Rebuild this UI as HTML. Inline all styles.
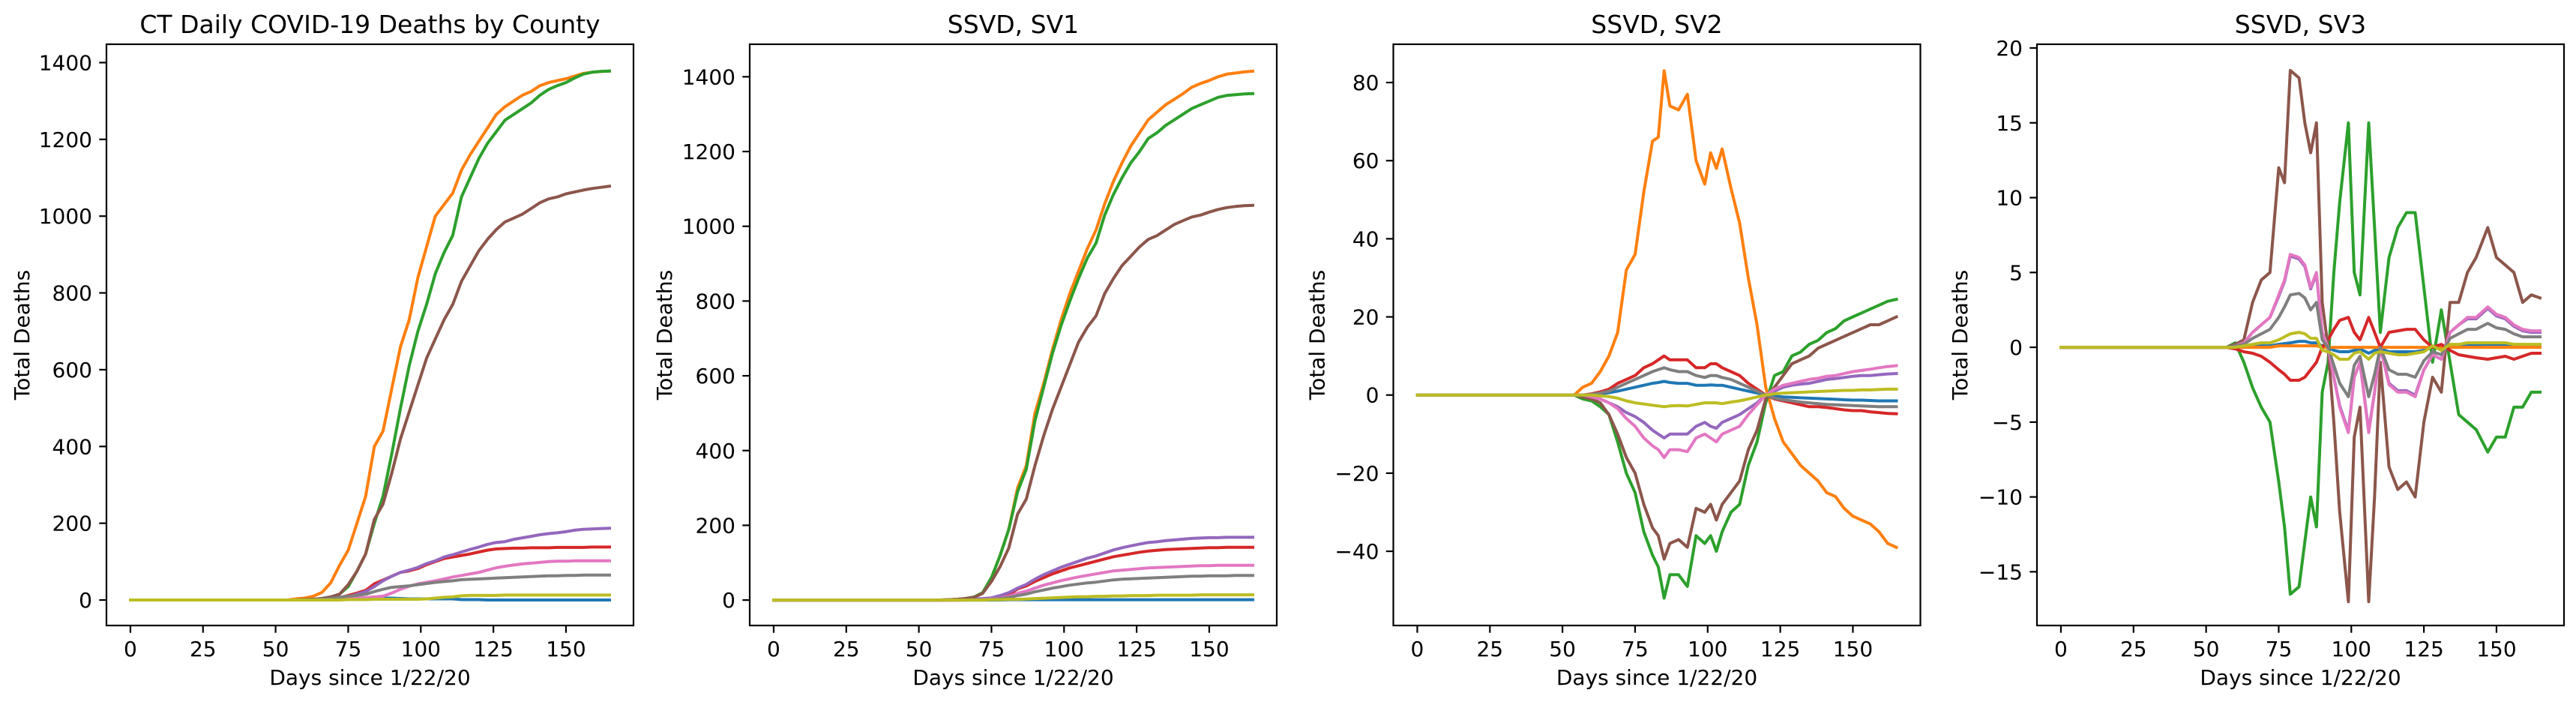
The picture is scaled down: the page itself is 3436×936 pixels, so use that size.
<!DOCTYPE html>
<html><head><meta charset="utf-8"><style>
html,body{margin:0;padding:0;background:#fff;}
svg{display:block;font-family:"DejaVu Sans","Liberation Sans",sans-serif;}
</style></head><body>
<svg id="fig" width="3436" height="936" viewBox="0 0 3436 936" xmlns="http://www.w3.org/2000/svg"></svg>
<script>
const colors=["#1f77b4","#ff7f0e","#2ca02c","#d62728","#9467bd","#8c564b","#e377c2","#7f7f7f","#bcbd22"];
const seriesNames=["blue","orange","green","red","purple","brown","pink","gray","olive"];
const xTicks=[0,25,50,75,100,125,150];
const days12=[0,54,57,60,63,66,69,72,75,78,81,84,87,90,93,96,99,102,105,108,111,114,117,120,123,126,129,132,135,138,141,144,147,150,153,156,159,162,165];
const days3=[0,54,57,60,63,66,69,72,75,78,81,83,85,87,90,93,96,99,101,103,105,108,111,114,117,120,123,126,129,132,135,138,141,144,147,150,153,156,159,162,165];
const days4=[0,54,57,60,63,66,69,72,75,77,79,82,84,86,88,90,92,94,96,99,101,103,106,108,110,113,116,119,122,125,128,131,134,137,140,143,147,150,153,156,159,162,165];
// Panel 1: cumulative deaths
const p1Blue=[0,0,0,0,0,0,1,1,2,3,4,4,5,5,4,3,3,3,3,3,3,1,1,1,0,0,0,0,0,0,0,0,0,0,0,0,0,0,0];
const p1Orange=[0,0,3,5,10,20,45,90,130,200,270,400,440,550,660,730,840,920,1000,1030,1060,1120,1160,1195,1230,1265,1285,1300,1315,1325,1340,1348,1353,1358,1365,1372,1375,1377,1378];
const p1Green=[0,0,0,1,2,4,8,15,35,75,120,200,270,380,500,610,700,770,850,905,950,1050,1100,1150,1190,1220,1250,1265,1280,1295,1315,1330,1340,1348,1360,1370,1375,1377,1378];
const p1Red=[0,0,0,0,1,2,3,6,12,18,25,42,52,62,72,76,82,92,100,108,112,116,120,125,130,133,134,135,135,136,136,136,137,137,137,137,138,138,138];
const p1Purple=[0,0,0,0,1,2,3,5,8,15,22,35,50,62,72,78,85,95,102,112,118,125,132,138,145,150,152,158,162,166,170,173,175,178,182,184,185,186,187];
const p1Brown=[0,0,0,1,2,4,8,15,40,75,120,210,250,330,420,490,560,630,680,730,770,830,870,910,940,965,985,995,1005,1020,1035,1045,1050,1058,1063,1068,1072,1075,1078];
const p1Pink=[0,0,0,0,0,1,2,3,4,5,6,8,10,18,28,36,42,46,50,55,60,64,68,72,78,84,88,91,94,96,98,100,101,101,102,102,102,102,102];
const p1Gray=[0,0,0,0,1,2,4,7,10,12,15,22,28,33,35,37,40,43,46,48,50,53,54,55,56,57,58,59,60,61,62,63,63,64,64,65,65,65,65];
const p1Olive=[0,0,0,0,0,0,0,0,1,1,1,2,2,2,2,2,2,3,5,7,8,11,12,12,12,12,13,13,13,13,13,13,13,13,13,13,13,13,13];
// Panel 2: SV1
const p2Blue=[0,0,0,0,0,0,0,0,0,0,1,1,1,1,1,1,1,1,1,1,1,1,1,1,1,1,1,1,1,1,1,1,1,1,1,1,1,1,1];
const p2Orange=[0,0,0,1,2,4,8,20,60,120,190,300,360,500,580,670,750,820,880,940,990,1060,1120,1170,1215,1250,1285,1305,1325,1340,1355,1372,1382,1390,1400,1407,1410,1413,1415];
const p2Green=[0,0,0,1,2,4,8,20,60,120,190,290,350,480,570,660,735,800,860,915,955,1030,1085,1130,1170,1200,1235,1250,1270,1285,1300,1315,1325,1335,1345,1350,1352,1354,1355];
const p2Red=[0,0,0,0,0,1,2,3,4,8,14,30,38,50,60,70,78,86,92,98,104,110,116,120,124,128,131,133,135,136,137,138,139,140,140,141,141,141,141];
const p2Purple=[0,0,0,0,1,2,3,4,6,12,20,32,42,56,68,78,88,96,104,112,118,126,134,140,145,150,154,156,159,161,163,165,166,167,167,168,168,168,168];
const p2Brown=[0,0,0,1,2,4,7,18,50,90,140,230,270,360,440,510,570,630,690,730,760,820,860,895,920,945,965,975,990,1005,1015,1025,1030,1038,1045,1050,1053,1055,1056];
const p2Pink=[0,0,0,0,0,0,1,2,3,5,10,18,24,32,40,46,52,57,62,66,70,74,78,80,82,84,86,87,88,89,90,91,92,92,93,93,93,93,93];
const p2Gray=[0,0,0,0,0,0,1,1,2,4,7,12,16,22,27,32,36,40,43,46,48,51,54,56,57,58,59,60,61,62,63,64,64,65,65,65,66,66,66];
const p2Olive=[0,0,0,0,0,0,0,0,1,1,2,2,3,4,5,6,7,8,9,9,10,10,11,11,12,12,12,13,13,13,13,13,14,14,14,14,14,14,14];
// Panel 3: SV2
const p3Blue=[0,0,0,0.1,0.3,0.6,1,1.5,2,2.5,3,3.2,3.5,3.2,3,3,2.5,2.5,2.6,2.5,2.5,2,1.5,1,0.5,0,-0.3,-0.5,-0.6,-0.7,-0.8,-0.9,-1,-1.1,-1.2,-1.3,-1.3,-1.4,-1.5,-1.5,-1.5];
const p3Orange=[0,0,2,3,6,10,16,32,36,52,65,66,83,74,73,77,60,54,62,58,63,53,44,30,18,2,-6,-12,-15,-18,-20,-22,-25,-26,-29,-31,-32,-33,-35,-38,-39];
const p3Green=[0,0,-1,-1.5,-3,-5,-12,-20,-25,-35,-41,-44,-52,-46,-46,-49,-36,-38,-36,-40,-35,-30,-28,-18,-12,-2,5,6,10,11,13,14,16,17,19,20,21,22,23,24,24.5];
const p3Red=[0,0,0,0.3,0.8,1.5,3,4,5,7,8,9,10,9,9,9,7,7,8,8,7,6,5,3,1.5,0,-1,-1.5,-2,-2.5,-3,-3,-3.2,-3.5,-3.8,-4,-4,-4.3,-4.5,-4.7,-4.8];
const p3Purple=[0,0,0,-0.5,-1,-2,-3,-4.5,-5.5,-7,-9,-10,-11,-10,-10,-10,-8,-7,-8,-8.5,-7,-6,-5,-3.5,-2,0,1,2,2.5,2.8,3,3.5,4,4.2,4.5,4.8,5,5,5.2,5.4,5.5];
const p3Brown=[0,0,-0.5,-1,-2,-5,-10,-16,-20,-28,-34,-36,-42,-38,-37,-39,-29,-30,-28,-32,-28,-25,-22,-14,-9,-1,2,5,8,9,10,12,13,14,15,16,17,18,18,19,20];
const p3Pink=[0,0,0,-0.5,-1,-2,-3.5,-6,-8,-11,-13,-14,-16,-14,-14,-14.5,-11,-10,-11,-12,-10,-9,-8,-5,-2.5,0,1.5,2.5,3,3.5,4,4.3,4.8,5,5.5,6,6.3,6.6,7,7.3,7.5];
const p3Gray=[0,0,0,0.2,0.5,1,2,3,4,5,6,6.5,7,6.5,6,6,5,4.5,5,5,4.5,4,3,2,1,0,-0.8,-1.2,-1.5,-1.8,-2,-2.2,-2.4,-2.5,-2.6,-2.7,-2.8,-2.9,-3,-3,-3];
const p3Olive=[0,0,0,0,-0.2,-0.4,-0.8,-1.5,-2,-2.3,-2.6,-2.8,-3,-2.8,-2.7,-2.8,-2.4,-2,-2,-2,-2.2,-1.8,-1.5,-1,-0.5,0,0.3,0.5,0.6,0.7,0.8,0.9,1,1.1,1.2,1.2,1.3,1.3,1.4,1.5,1.5];
// Panel 4: SV3
const p4Blue=[0,0,0,0,0,0.05,0.1,0.1,0.2,0.25,0.3,0.4,0.4,0.3,0.3,0.1,0,-0.2,-0.3,-0.3,-0.2,-0.1,-0.4,-0.2,-0.1,-0.3,-0.3,-0.3,-0.3,-0.2,0,-0.1,0.1,0.1,0.1,0.15,0.2,0.2,0.2,0.15,0.1,0.1,0.1];
const p4Orange=[0,0,0,0,0,0,0,0,0.1,0.1,0.1,0.1,0.1,0.1,0.1,0,0,0,0,0,0,0,0,0,0,0,0,0,0,0,0,0,0,0,0,0,0,0,0,0,0,0,0];
const p4Green=[0,0,0,0.3,-1,-2.7,-4,-5,-9,-12,-16.5,-16,-13,-10,-12,-3,-1,5,9.7,15,5,3.5,15,8,1,6,8,9,9,4,-1,2.5,-1,-4.5,-5,-5.5,-7,-6,-6,-4,-4,-3,-3];
const p4Red=[0,0,0,-0.1,-0.3,-0.4,-0.6,-1,-1.5,-1.8,-2.2,-2.2,-2,-1.5,-1,0,0.5,1.2,1.8,2,1,0.5,2,1,0,1,1.1,1.2,1.2,0.5,0,0.2,-0.2,-0.5,-0.6,-0.7,-0.8,-0.7,-0.6,-0.8,-0.6,-0.4,-0.4];
const p4Purple=[0,0,0,0.1,0.3,1,1.5,2,3.4,4.4,6.1,5.9,5.4,3.9,4.9,1,0,-2,-3.9,-5.6,-2,-1,-5.6,-3,0,-2.4,-2.9,-2.9,-3.2,-1.5,-0.5,-0.8,1,1.5,1.9,1.9,2.6,2.1,1.9,1.4,1.1,1,1];
const p4Brown=[0,0,0,0.2,0.5,3,4.5,5,12,11,18.5,18,15,13,15,3,0,-5,-11,-17,-6,-4,-17,-10,-1,-8,-9.5,-9,-10,-5,-2,-3,3,3,5,6,8,6,5.5,5,3,3.5,3.3];
const p4Pink=[0,0,0,0.1,0.3,1,1.5,2,3.5,4.5,6.2,6,5.5,4,5,1,0,-2,-4,-5.7,-2,-1,-5.7,-3,0,-2.5,-3,-3,-3.3,-1.5,-0.5,-0.8,1,1.5,2,2,2.7,2.2,2,1.5,1.2,1.1,1.1];
const p4Gray=[0,0,0,0.1,0.2,0.6,0.9,1.2,2,2.7,3.5,3.6,3.3,2.5,3,0.5,0,-1.2,-2.4,-3.3,-1.2,-0.6,-3.3,-1.8,0,-1.5,-1.8,-1.8,-2,-0.9,-0.3,-0.5,0.6,0.9,1.2,1.2,1.6,1.3,1.2,0.9,0.7,0.7,0.7];
const p4Olive=[0,0,0,0,0.1,0.2,0.3,0.3,0.5,0.7,0.9,1,0.9,0.6,0.6,-0.2,-0.3,-0.5,-0.8,-0.8,-0.4,-0.3,-0.8,-0.4,-0.3,-0.4,-0.5,-0.5,-0.4,-0.3,0.1,-0.2,0.2,0.2,0.3,0.3,0.3,0.3,0.3,0.2,0.2,0.2,0.2];
const yTicks1=[0,200,400,600,800,1000,1200,1400];
const yTicks3=[-40,-20,0,20,40,60,80];
const yTicks4=[-15,-10,-5,0,5,10,15,20];

const NS="http://www.w3.org/2000/svg";
const svg=document.getElementById('fig');
function mk(tag,attrs,parent){const e=document.createElementNS(NS,tag);for(const k in attrs)e.setAttribute(k,attrs[k]);(parent||svg).appendChild(e);return e;}
function fmt(v){return v<0?"\u2212"+Math.abs(v):String(v);}

const panels=[
 {left:142,title:"CT Daily COVID-19 Deaths by County",ylim:[-66.4,1447.8],ticks:yTicks1,days:days12,series:[p1Blue,p1Orange,p1Green,p1Red,p1Purple,p1Brown,p1Pink,p1Gray,p1Olive],ylabOff:113,key:"counties"},
 {left:1000,title:"SSVD, SV1",ylim:[-68,1487],ticks:yTicks1,days:days12,series:[p2Blue,p2Orange,p2Green,p2Red,p2Purple,p2Brown,p2Pink,p2Gray,p2Olive],ylabOff:114,key:"sv1"},
 {left:1858.5,title:"SSVD, SV2",ylim:[-59,89.8],ticks:yTicks3,days:days3,series:[p3Blue,p3Orange,p3Green,p3Red,p3Purple,p3Brown,p3Pink,p3Gray,p3Olive],ylabOff:102,key:"sv2"},
 {left:2717,title:"SSVD, SV3",ylim:[-18.59,20.25],ticks:yTicks4,days:days4,series:[p4Blue,p4Orange,p4Green,p4Red,p4Purple,p4Brown,p4Pink,p4Gray,p4Olive],ylabOff:103,key:"sv3"}
];
const TOP=59,BOT=834,W=703,XMIN=-8.25,XMAX=173.25;

panels.forEach(p=>{
  const g=mk('g',{});
  
  
  const L=p.left;
  const xs=d=>L+(d-XMIN)/(XMAX-XMIN)*W;
  const ys=v=>BOT-(v-p.ylim[0])/(p.ylim[1]-p.ylim[0])*(BOT-TOP);
  const clip='clip-'+p.key;
  const cp=mk('clipPath',{id:clip},g);
  mk('rect',{x:L,y:TOP,width:W,height:BOT-TOP},cp);
  const lines=mk('g',{'clip-path':'url(#'+clip+')'},g);
  
  
  p.series.forEach((s,i)=>{
    const pts=s.map((v,j)=>xs(p.days[j]).toFixed(1)+','+ys(v).toFixed(1)).join(' ');
    const pl=mk('polyline',{points:pts,fill:'none',stroke:colors[i],'stroke-width':4,'stroke-linejoin':'round','stroke-linecap':'square'},lines);
    
    
  });
  const fr=mk('rect',{x:L,y:TOP,width:W,height:BOT-TOP,fill:'none',stroke:'#000','stroke-width':2.2},g);
  
  
  xTicks.forEach(t=>{
    const x=xs(t);
    mk('line',{x1:x,x2:x,y1:BOT,y2:BOT+9.7,stroke:'#000','stroke-width':2.2},g);
    const tx=mk('text',{x:x,y:875,'font-size':28,'text-anchor':'middle',fill:'#000'},g);
    tx.textContent=fmt(t);
    
    
  });
  p.ticks.forEach(t=>{
    const y=ys(t);
    mk('line',{x1:L-9.7,x2:L,y1:y,y2:y,stroke:'#000','stroke-width':2.2},g);
    const tx=mk('text',{x:L-19,y:y+10,'font-size':28,'text-anchor':'end',fill:'#000'},g);
    tx.textContent=fmt(t);
    
    
  });
  const xl=mk('text',{x:L+W/2,y:913,'font-size':28,'text-anchor':'middle',fill:'#000'},g);
  xl.textContent='Days since 1/22/20';
  
  
  const yx=L-p.ylabOff+10,yy=(TOP+BOT)/2;
  const yl=mk('text',{x:yx,y:yy,'font-size':28,'text-anchor':'middle',fill:'#000',transform:'rotate(-90 '+yx+' '+yy+')'},g);
  yl.textContent='Total Deaths';
  
  
  const tt=mk('text',{x:L+W/2,y:44,'font-size':33,'text-anchor':'middle',fill:'#000'},g);
  tt.textContent=p.title;
  
  
});
</script>
</body></html>
